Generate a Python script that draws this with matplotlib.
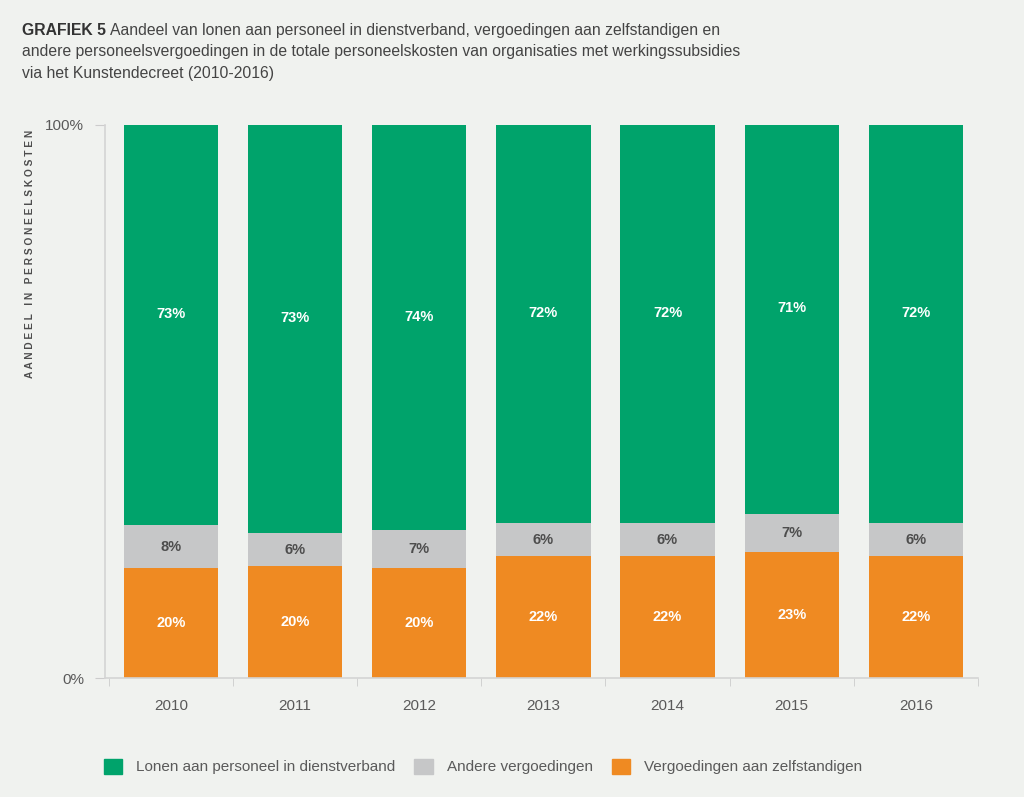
import matplotlib.pyplot as plt
from matplotlib.patches import Patch
import numpy as np

plt.rcParams['font.family'] = ['Liberation Sans', 'DejaVu Sans']

jaren = ['2010', '2011', '2012', '2013', '2014', '2015', '2016']
zelfstandigen = [20, 20, 20, 22, 22, 23, 22]
andere = [8, 6, 7, 6, 6, 7, 6]
lonen = [73, 73, 74, 72, 72, 71, 72]

bg = '#f0f2ef'
green = '#00a36b'
grey = '#c6c7c8'
orange = '#ef8a22'
txt = '#5a5a5a'

# labels are rounded, bars are scaled back to 100%
tot = np.array(zelfstandigen) + np.array(andere) + np.array(lonen)
z = np.array(zelfstandigen) / tot * 100
a = np.array(andere) / tot * 100
l = np.array(lonen) / tot * 100

fig = plt.figure(figsize=(10.24, 7.97), dpi=100, facecolor=bg)
ax = fig.add_axes([105 / 1024, 0.1493, 873 / 1024, 0.6939])
ax.set_facecolor(bg)

x = np.arange(len(jaren))
w = 0.76
ax.bar(x, z, w, color=orange)
ax.bar(x, a, w, bottom=z, color=grey)
ax.bar(x, l, w, bottom=z + a, color=green)

for i in x:
    ax.text(i, z[i] / 2, f'{zelfstandigen[i]}%', ha='center', va='center',
            color='white', fontsize=10.5, fontweight='bold')
    ax.text(i, z[i] + a[i] / 2, f'{andere[i]}%', ha='center', va='center',
            color='#4d4d4d', fontsize=10.5, fontweight='bold')
    ax.text(i, z[i] + a[i] + l[i] / 2 + 2, f'{lonen[i]}%', ha='center', va='center',
            color='white', fontsize=10.5, fontweight='bold')

ax.set_xlim(-0.53, 6.5)
ax.set_ylim(0, 100)
ax.set_yticks([0, 100])
ax.set_yticklabels(['0%', '100%'], color=txt, fontsize=11)
ax.set_xticks(x)
ax.set_xticklabels(jaren, color=txt, fontsize=11)
ax.set_xticks(np.arange(-0.5, 7, 1), minor=True)
ax.tick_params(axis='x', which='major', length=0, pad=15)
ax.tick_params(axis='x', which='minor', length=6, color='#cccccc')
ax.tick_params(axis='y', length=7, color='#cccccc', pad=8)
for s in ['top', 'right']:
    ax.spines[s].set_visible(False)
for s in ['left', 'bottom']:
    ax.spines[s].set_color('#d4d4d4')
    ax.spines[s].set_linewidth(1.2)

fig.text(0.029, 0.837, 'A A N D E E L   I N   P E R S O N E E L S K O S T E N',
         rotation=90, ha='center', va='top', fontsize=7.3, fontweight='bold', color='#4d4d4d')

# title: bold prefix followed by normal text
r = fig.canvas.get_renderer()
t0 = fig.text(0.021, 0.962, 'GRAFIEK 5 ', fontsize=11.3, fontweight='bold', color='#333333', va='center')
bb = t0.get_window_extent(r)
fig.text(bb.x1 / fig.bbox.width, 0.962,
         'Aandeel van lonen aan personeel in dienstverband, vergoedingen aan zelfstandigen en',
         fontsize=11.3, color='#444444', va='center')
fig.text(0.021, 0.935,
         'andere personeelsvergoedingen in de totale personeelskosten van organisaties met werkingssubsidies',
         fontsize=11.3, color='#444444', va='center')
fig.text(0.021, 0.908, 'via het Kunstendecreet (2010-2016)',
         fontsize=11.3, color='#444444', va='center')

handles = [Patch(color=green, label='Lonen aan personeel in dienstverband'),
           Patch(color=grey, label='Andere vergoedingen'),
           Patch(color=orange, label='Vergoedingen aan zelfstandigen')]
leg = fig.legend(handles=handles, loc='center left', bbox_to_anchor=(104 / 1024, 0.038),
                 ncol=3, frameon=False, fontsize=11, handlelength=1.2, handleheight=1.1,
                 columnspacing=1.25, handletextpad=0.9, borderpad=0, borderaxespad=0)
for t in leg.get_texts():
    t.set_color(txt)

fig.savefig('out.png', dpi=100, facecolor=bg)
